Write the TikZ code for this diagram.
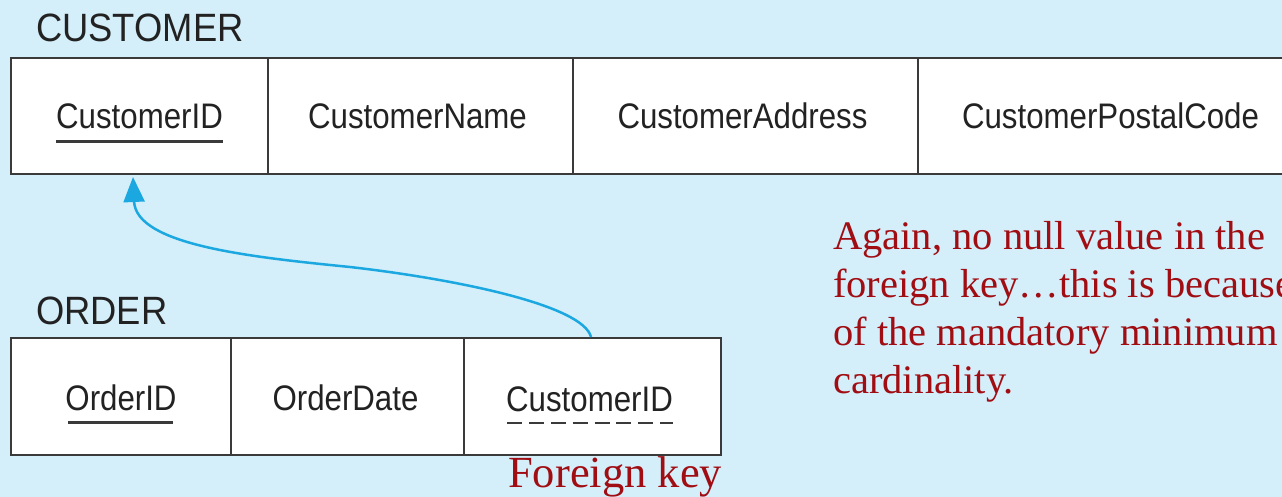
\documentclass[tikz,border=0pt]{standalone}
\usepackage{fontspec}
\setmainfont{Liberation Serif}
\setsansfont{Liberation Sans}
\newfontfamily\fieldfont{Liberation Sans}[FakeStretch=0.88]
\newfontfamily\titlefont{Liberation Sans}[FakeStretch=0.92]
\usetikzlibrary{arrows.meta}
\definecolor{bg}{HTML}{D4EEFA}
\definecolor{edge}{HTML}{3A3A3A}
\definecolor{ink}{HTML}{222222}
\definecolor{note}{HTML}{A00D12}
\definecolor{link}{HTML}{1BA8E0}
\begin{document}
\begin{tikzpicture}[x=1pt,y=-1pt,
  cell/.style={draw=edge, line width=2pt, fill=white, anchor=north west, inner sep=0pt, minimum height=#1},
  cell/.default=116pt,
  field/.style={anchor=base, inner sep=0pt, text=ink, font=\fieldfont\fontsize{35.5}{35.5}\selectfont},
  title/.style={anchor=base west, inner sep=0pt, text=ink, font=\titlefont\fontsize{39.5}{39.5}\selectfont},
  notetext/.style={anchor=base west, inner sep=0pt, text=note, align=left},
  keyline/.style={draw=edge, line width=2.4pt},
  fkline/.style={draw=edge, line width=2.4pt, dash pattern=on 15pt off 6.9pt},
  link/.style={draw=link, line width=2.5pt, -{Triangle[length=25pt,width=21pt]}}
]
\fill[bg] (0,0) rectangle (1282,497);
\useasboundingbox (0,0) rectangle (1282,497);

% CUSTOMER
\node[title] (ct) at (36,42) {CUSTOMER};
\node[cell, minimum width=257pt] (c1) at (10,57) {};
\node[cell, minimum width=305pt] (c2) at (267,57) {};
\node[cell, minimum width=345pt] (c3) at (572,57) {};
\node[cell, minimum width=385pt] (c4) at (917,57) {};
\node[field] (c1t) at ([yshift=-13pt]c1.center) {CustomerID};
\node[field] (c2t) at ([xshift=-3pt,yshift=-13pt]c2.center) {CustomerName};
\node[field] (c3t) at ([xshift=-3pt,yshift=-13pt]c3.center) {CustomerAddress};
\node[field] (c4t) at ([yshift=-13pt]c4.center) {CustomerPostalCode};
\draw[keyline] ([yshift=-12.5pt]c1t.base west) -- ([yshift=-12.5pt]c1t.base east);

% ORDER
\node[title] (ot) at (36,324) {ORDER};
\node[cell=117pt, minimum width=220pt] (o1) at (10,337) {};
\node[cell=117pt, minimum width=233pt] (o2) at (230,337) {};
\node[cell=117pt, minimum width=257pt] (o3) at (463,337) {};
\node[field] (o1t) at ([yshift=-14pt]o1.center) {OrderID};
\node[field] (o2t) at ([xshift=-2pt,yshift=-14pt]o2.center) {OrderDate};
\node[field] (o3t) at ([xshift=-3pt,yshift=-15pt]o3.center) {CustomerID};
\draw[keyline] ([xshift=3pt,yshift=-12pt]o1t.base west) -- ([xshift=-4pt,yshift=-12pt]o1t.base east);
\draw[fkline] ([xshift=1pt,yshift=-11.5pt]o3t.base west) -- ([yshift=-11.5pt]o3t.base east);

% foreign key reference
\coordinate (mid) at (350,267);
\coordinate (tip) at ([xshift=-6.5pt,yshift=-2pt]c1.south);
\draw[link] ([xshift=-1.5pt]o3.north) .. controls +(-8,-32) and +(105,12) .. (mid)
  .. controls +(-100,-10) and +(3,68) .. (tip);

% notes
\node[notetext, font=\rmfamily\fontsize{40.5}{48}\selectfont] (note) at (833,393)
  {Again, no null value in the\\foreign key…this is because\\of the mandatory minimum\\cardinality.};
\node[notetext, font=\rmfamily\fontsize{44.5}{44.5}\selectfont] (fk) at (508,487) {Foreign key};
\end{tikzpicture}
\end{document}
